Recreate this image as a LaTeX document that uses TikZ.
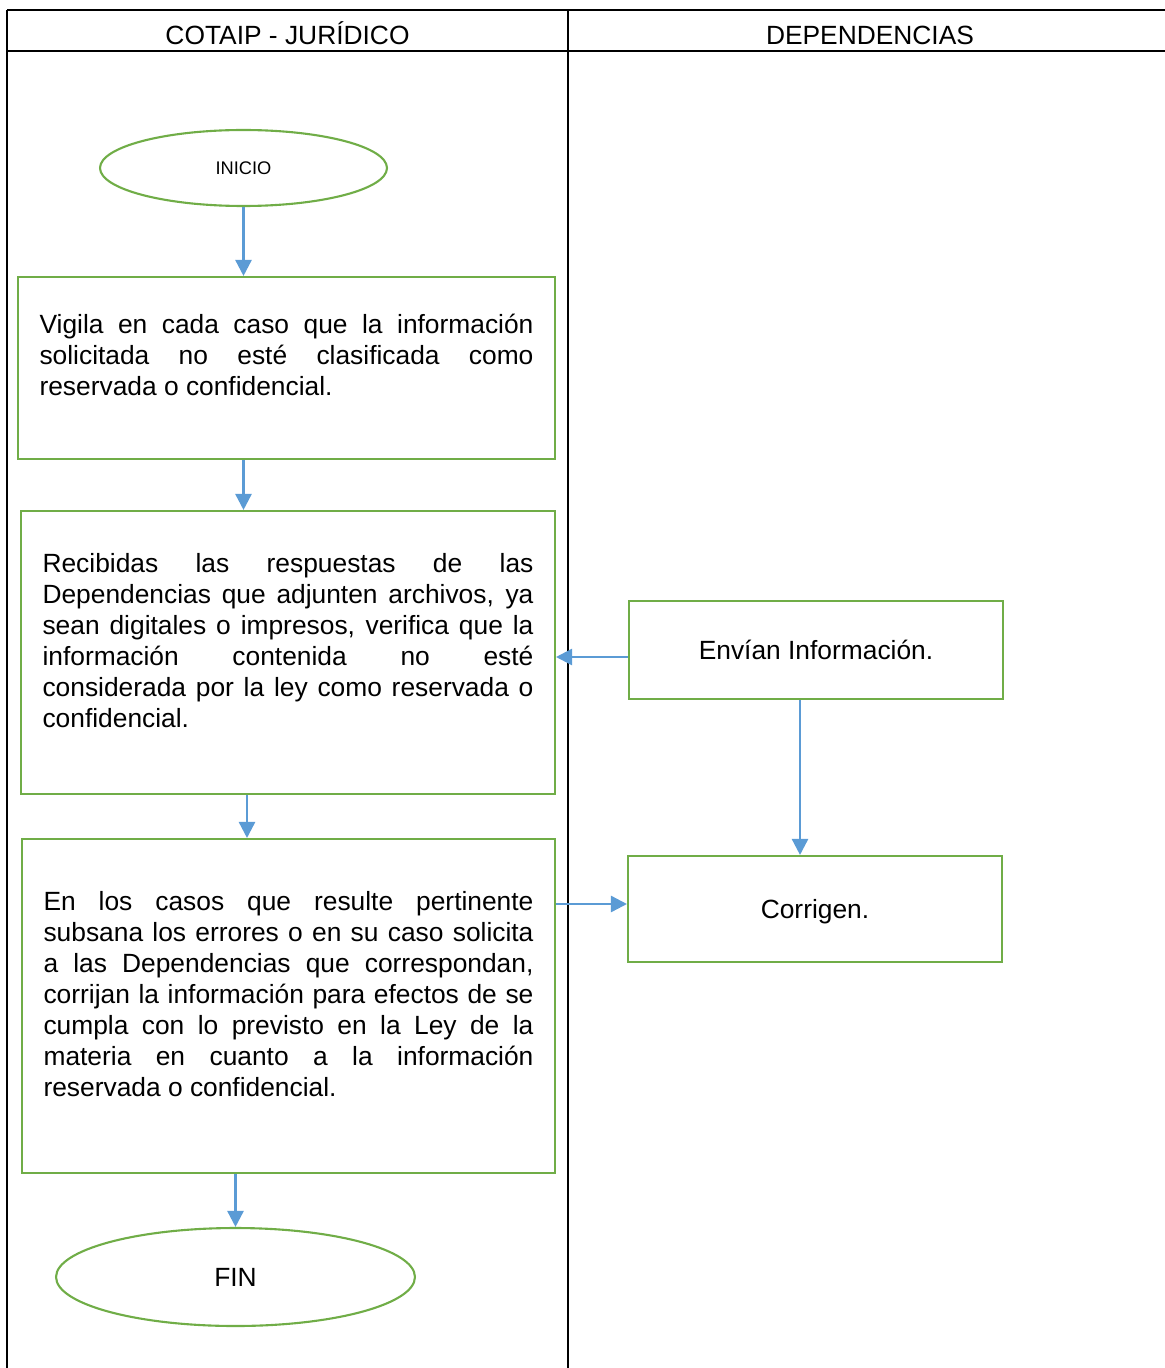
\documentclass[tikz,border=0pt]{standalone}
\usepackage{fontspec}
\setmainfont{Liberation Sans}
\usepackage{xcolor}
\usepackage{tikz}
\usetikzlibrary{shapes,arrows.meta,positioning,calc}

\definecolor{boxgreen}{HTML}{70AD47}
\definecolor{flowblue}{HTML}{5B9BD5}

\tikzset{
  lane/.style={black,line width=1.1pt},
  stepbox/.style={draw=boxgreen,line width=1.2pt,rectangle,inner sep=0pt,
    font=\fontsize{15}{17.64}\selectfont},
  term/.style={draw=boxgreen,line width=1.2pt,ellipse,inner sep=0pt},
  flow/.style={flowblue,line width=1.4pt,-{Triangle[length=0.32cm,width=0.32cm]}}
}

\begin{document}
\begin{tikzpicture}[x=0.02cm,y=-0.02cm]
\useasboundingbox (0,0) rectangle (1165,1368);

% Swimlanes
\draw[lane] (7,10) -- (1165,10);
\draw[lane] (7,51) -- (1165,51);
\draw[lane] (7,10) -- (7,1368);
\draw[lane] (568,10) -- (568,1368);

% Lane titles
\node[anchor=base,font=\fontsize{15}{18}\selectfont] (cotaip) at (287.5,45) {COTAIP - JURÍDICO};
\node[anchor=base,font=\fontsize{15}{18}\selectfont] (dep) at (870,45) {DEPENDENCIAS};

% Start and end
\node[term,minimum width=5.74cm,minimum height=1.52cm,font=\fontsize{10.4}{12}\selectfont] (inicio) at (243.5,168) {INICIO};
\node[term,minimum width=7.18cm,minimum height=1.96cm,font=\fontsize{15}{18}\selectfont] (fin) at (235.5,1277) {FIN};

% Steps, left lane
\node[stepbox,minimum width=10.74cm,minimum height=3.64cm] (vigila) at (286.5,368)
  {\parbox[c][2.16cm][t]{9.88cm}{Vigila en cada caso que la información\linebreak
  solicitada no esté clasificada como\linebreak
  reservada o confidencial.}};

\node[stepbox,minimum width=10.68cm,minimum height=5.66cm] (recibidas) at (288,652.5)
  {\parbox[c][3.98cm][t]{9.82cm}{Recibidas las respuestas de las\linebreak
  Dependencias que adjunten archivos, ya\linebreak
  sean digitales o impresos, verifica que la\linebreak
  información contenida no esté\linebreak
  considerada por la ley como reservada o\linebreak
  confidencial.}};

\node[stepbox,minimum width=10.66cm,minimum height=6.68cm] (subsana) at (288.5,1006)
  {\parbox[c][4.6cm][t]{9.80cm}{En los casos que resulte pertinente\linebreak
  subsana los errores o en su caso solicita\linebreak
  a las Dependencias que correspondan,\linebreak
  corrijan la información para efectos de se\linebreak
  cumpla con lo previsto en la Ley de la\linebreak
  materia en cuanto a la información\linebreak
  reservada o confidencial.}};

% Steps, right lane
\node[stepbox,minimum width=7.48cm,minimum height=1.96cm] (envian) at (816,650) {Envían Información.};
\node[stepbox,minimum width=7.48cm,minimum height=2.12cm,text depth=0pt] (corrigen) at (815,909) {Corrigen.};

% Flow
\draw[flow] (inicio.south) -- (inicio.south |- vigila.north);
\draw[flow] (vigila.south -| inicio.south) -- (recibidas.north -| inicio.south);
\draw[flow] ([xshift=-0.82cm]recibidas.south) -- ([xshift=-0.82cm]recibidas.south |- subsana.north);
\draw[flow] (subsana.south -| fin.north) -- (fin.north);
\draw[flow] ([yshift=-0.14cm]envian.west) -- ([yshift=-0.14cm]envian.west -| recibidas.east);
\draw[flow] ([xshift=-0.32cm]envian.south) -- ([xshift=-0.32cm]envian.south |- corrigen.north);
\draw[flow] ([yshift=0.1cm]subsana.east |- corrigen.west) -- ([yshift=0.1cm]corrigen.west);

\end{tikzpicture}
\end{document}
